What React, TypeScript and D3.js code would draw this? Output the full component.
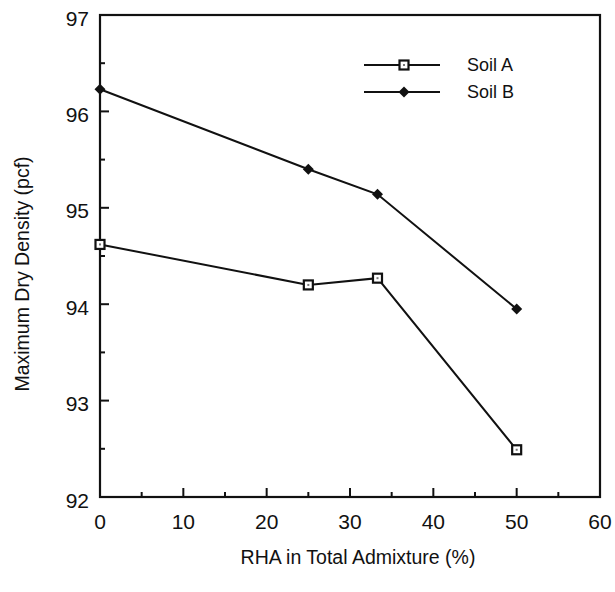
import React from "react";
import * as d3 from "d3";

const rhaPercent = [0, 25, 33.3, 50];
const soilA = [94.62, 94.2, 94.27, 92.49];
const soilB = [96.23, 95.4, 95.14, 93.95];
const xTicks = [0, 10, 20, 30, 40, 50, 60];
const yTicks = [92, 93, 94, 95, 96, 97];
const seriesNames = ["Soil A", "Soil B"];

const W = 615, H = 592;
const L = 100, R = 600, T = 15, B = 497;
const FONT = "'Liberation Sans', Arial, Helvetica, sans-serif";

export default function App() {
  const x = d3.scaleLinear().domain([0, 60]).range([L, R]);
  const y = d3.scaleLinear().domain([92, 97]).range([B, T]);
  const line = d3.line<number>().x((_, i) => x(rhaPercent[i])).y((d) => y(d));
  const xMinor = d3.range(5, 60, 10);
  const yMinor = d3.range(92.5, 97, 1);

  const square = (cx: number, cy: number, key: string) => (
    <g key={key}>
      <rect x={cx - 4.5} y={cy - 4.5} width={9} height={9} fill="#fff" stroke="#111" strokeWidth={2.2} />
      <rect x={cx - 1} y={cy - 1} width={2} height={2} fill="#777" />
    </g>
  );
  const diamond = (cx: number, cy: number, key: string) => (
    <path key={key} d={`M${cx},${cy - 5.5}L${cx + 5.5},${cy}L${cx},${cy + 5.5}L${cx - 5.5},${cy}Z`} fill="#111" />
  );

  return (
    <svg width={W} height={H} style={{ position: "absolute", left: 0, top: 0, background: "#fff" }} fontFamily={FONT}>
      <rect x={0} y={0} width={W} height={H} fill="#fff" />
      {xTicks.slice(1, -1).map((t) => (
        <line key={"xt" + t} x1={x(t)} x2={x(t)} y1={B} y2={B - 9} stroke="#111" strokeWidth={2} />
      ))}
      {xMinor.map((t) => (
        <line key={"xm" + t} x1={x(t)} x2={x(t)} y1={B} y2={B - 5} stroke="#111" strokeWidth={2} />
      ))}
      {yTicks.slice(1, -1).map((t) => (
        <line key={"yt" + t} x1={L} x2={L + 9} y1={y(t)} y2={y(t)} stroke="#111" strokeWidth={2} />
      ))}
      {yMinor.map((t) => (
        <line key={"ym" + t} x1={L} x2={L + 5} y1={y(t)} y2={y(t)} stroke="#111" strokeWidth={2} />
      ))}
      <rect x={L} y={T} width={R - L} height={B - T} fill="none" stroke="#111" strokeWidth={2.2} />
      {xTicks.map((t) => (
        <text key={"xl" + t} x={x(t)} y={529} textAnchor="middle" fontSize={21} fill="#111">{t}</text>
      ))}
      {yTicks.map((t) => (
        <text key={"yl" + t} x={L - 11} y={y(t) + 10.5} textAnchor="end" fontSize={21} fill="#111">{t}</text>
      ))}
      <text x={358} y={564} textAnchor="middle" fontSize={19.5} fill="#111">RHA in Total Admixture (%)</text>
      <text transform="translate(29,274) rotate(-90)" textAnchor="middle" fontSize={19.5} fill="#111">Maximum Dry Density (pcf)</text>
      <path d={line(soilA) || ""} fill="none" stroke="#111" strokeWidth={2} />
      <path d={line(soilB) || ""} fill="none" stroke="#111" strokeWidth={2} />
      {soilA.map((v, i) => square(x(rhaPercent[i]), y(v), "a" + i))}
      {soilB.map((v, i) => diamond(x(rhaPercent[i]), y(v), "b" + i))}
      <line x1={364} x2={440} y1={65} y2={65} stroke="#111" strokeWidth={2} />
      {square(404, 65, "la")}
      <text x={467} y={71} fontSize={18} fill="#111">{seriesNames[0]}</text>
      <line x1={364} x2={440} y1={92} y2={92} stroke="#111" strokeWidth={2} />
      {diamond(404, 92, "lb")}
      <text x={467} y={98} fontSize={18} fill="#111">{seriesNames[1]}</text>
    </svg>
  );
}
